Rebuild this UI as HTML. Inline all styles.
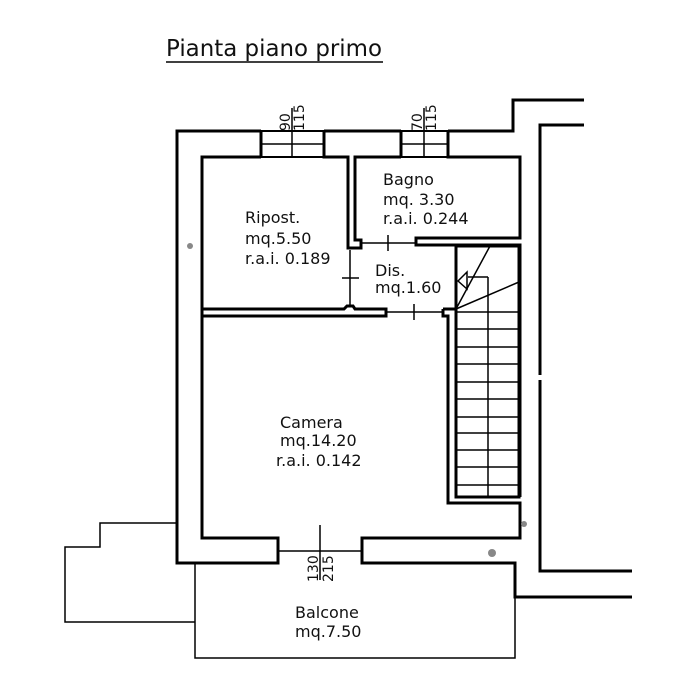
<!DOCTYPE html>
<html><head><meta charset="utf-8"><style>
html,body{margin:0;padding:0;background:#fff;}
svg{display:block;}
text{font-family:"DejaVu Sans","Liberation Sans",sans-serif;fill:#111;}
</style></head><body>
<svg width="686" height="700" viewBox="0 0 686 700" xmlns="http://www.w3.org/2000/svg">
<g fill="none" stroke="#000" stroke-linejoin="miter">
<!-- title -->
<text x="166" y="56" font-size="23" textLength="216" lengthAdjust="spacingAndGlyphs" stroke="none">Pianta piano primo</text>
<line x1="166" y1="62" x2="383" y2="62" stroke-width="1.5"/>

<!-- thick walls -->
<g stroke-width="3">
<polyline points="261,131 177,131 177,563 278,563 278,538 202,538 202,157 261,157"/>
<polyline points="324,131 401,131"/>
<polyline points="324,131 324,157 348,157 348,248 355,248"/>
<polyline points="401,131 401,157"/>
<polyline points="261,131 261,157"/>
<polyline points="448,131 513,131 513,100 584,100"/>
<polyline points="448,131 448,157 520,157 520,238 416,238 416,245 520,245 520,497"/>
<polyline points="355,248 361,248 361,240 355,240 355,157 401,157"/>
<polyline points="202,309 344,309 347,306 353,306 355,309 386,309 386,316 202,316"/>
<polyline points="443,309 443,316 448,316 448,503 520,503 520,538 362,538 362,563 515,563 515,597 632,597"/>
<polyline points="443,309 456,309"/>
<polyline points="584,125 540,125 540,375"/>
<polyline points="540,380 540,571 632,571"/>
<rect x="456" y="246" width="63" height="251"/>
</g>

<!-- windows -->
<g stroke-width="2">
<line x1="261" y1="131" x2="324" y2="131"/>
<line x1="261" y1="157" x2="324" y2="157"/>
<line x1="401" y1="131" x2="448" y2="131"/>
<line x1="401" y1="157" x2="448" y2="157"/>
</g>
<g stroke-width="1.5">
<line x1="261" y1="144" x2="324" y2="144"/>
<line x1="292" y1="108" x2="292" y2="157"/>
<line x1="401" y1="144" x2="448" y2="144"/>
<line x1="424" y1="108" x2="424" y2="157"/>
<line x1="361" y1="243" x2="416" y2="243"/>
<line x1="388" y1="235" x2="388" y2="251"/>
<line x1="350" y1="250" x2="350" y2="305"/>
<line x1="342" y1="278" x2="359" y2="278"/>
<line x1="386" y1="312" x2="443" y2="312"/>
<line x1="414" y1="304" x2="414" y2="320"/>
<line x1="278" y1="551" x2="362" y2="551"/>
<line x1="320" y1="525" x2="320" y2="580"/>
<line x1="488" y1="277" x2="488" y2="497"/>
<polyline points="488,277 468,277"/>
<polygon points="458,281 467,272 467,289" fill="#fff"/>
<line x1="456" y1="309" x2="490" y2="246"/>
<line x1="456" y1="309" x2="519" y2="282"/>
<line x1="456" y1="312" x2="519" y2="312"/>
<line x1="456" y1="329" x2="519" y2="329"/>
<line x1="456" y1="347" x2="519" y2="347"/>
<line x1="456" y1="364" x2="519" y2="364"/>
<line x1="456" y1="382" x2="519" y2="382"/>
<line x1="456" y1="399" x2="519" y2="399"/>
<line x1="456" y1="417" x2="519" y2="417"/>
<line x1="456" y1="433" x2="519" y2="433"/>
<line x1="456" y1="450" x2="519" y2="450"/>
<line x1="456" y1="467" x2="519" y2="467"/>
<line x1="456" y1="485" x2="519" y2="485"/>
<polyline points="195,563 195,658 515,658 515,597"/>
<polyline points="177,523 100,523 100,547 65,547 65,622 195,622"/>
</g>
</g>

<g fill="#888">
<circle cx="190" cy="246" r="3"/>
<circle cx="524" cy="524" r="3"/>
<circle cx="492" cy="553" r="4"/>
</g>

<g font-size="14">
<text transform="translate(290,131) rotate(-90)">90</text>
<text transform="translate(304,131) rotate(-90)">115</text>
<text transform="translate(422,131) rotate(-90)">70</text>
<text transform="translate(436,131) rotate(-90)">115</text>
<text transform="translate(318,582) rotate(-90)">130</text>
<text transform="translate(333,582) rotate(-90)">215</text>
</g>

<g font-size="16">
<text x="245" y="223">Ripost.</text>
<text x="245" y="244">mq.5.50</text>
<text x="245" y="264">r.a.i. 0.189</text>
<text x="383" y="185">Bagno</text>
<text x="383" y="205">mq. 3.30</text>
<text x="383" y="224">r.a.i. 0.244</text>
<text x="375" y="276">Dis.</text>
<text x="375" y="293">mq.1.60</text>
<text x="280" y="428">Camera</text>
<text x="280" y="446">mq.14.20</text>
<text x="276" y="466">r.a.i. 0.142</text>
<text x="295" y="618">Balcone</text>
<text x="295" y="637">mq.7.50</text>
</g>
</svg>
</body></html>
